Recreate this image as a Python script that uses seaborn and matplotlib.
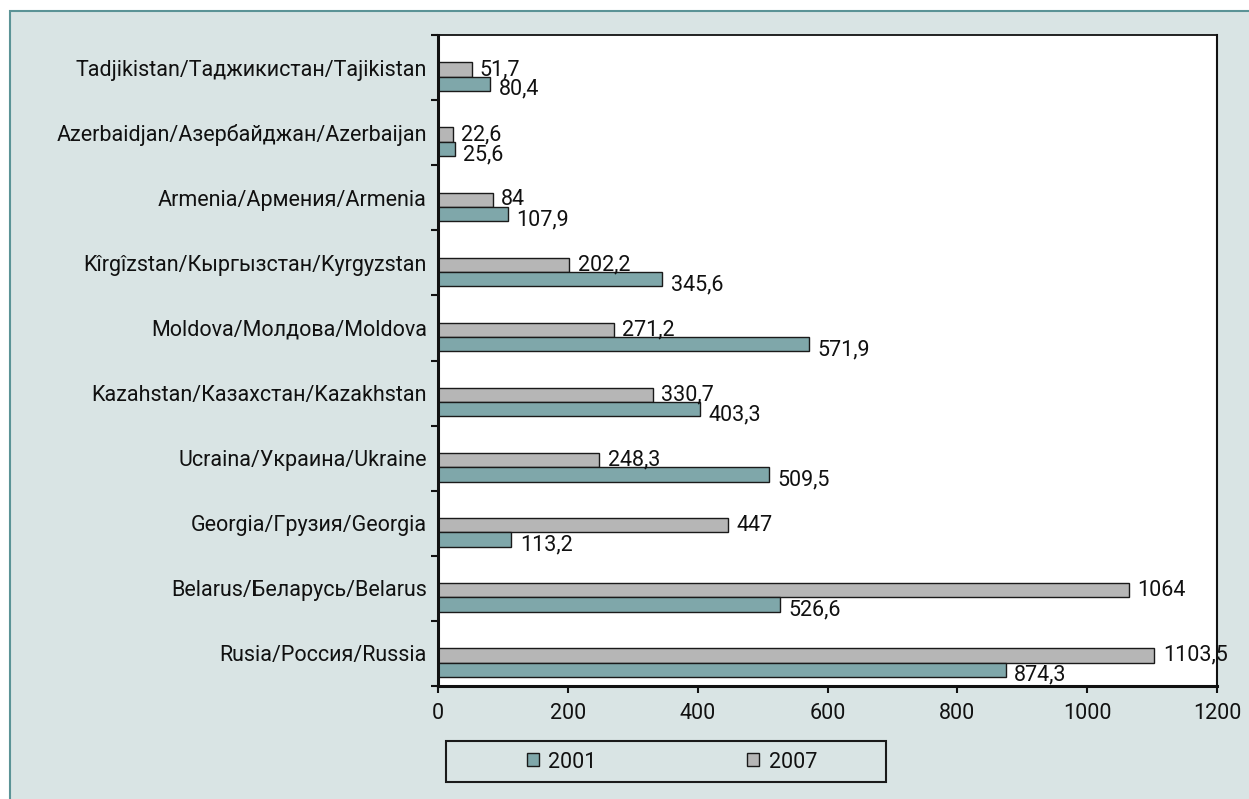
"""
CIS countries, 2001 vs 2007 - horizontal grouped bar chart
"""

import matplotlib.pyplot as plt
import seaborn as sns
import numpy as np
import pandas as pd
from matplotlib.patches import Rectangle, Patch

# data (top -> bottom)
countries = [
    'Tadjikistan/Таджикистан/Tajikistan',
    'Azerbaidjan/Азербайджан/Azerbaijan',
    'Armenia/Армения/Armenia',
    'Kîrgîzstan/Кыргызстан/Kyrgyzstan',
    'Moldova/Молдова/Moldova',
    'Kazahstan/Казахстан/Kazakhstan',
    'Ucraina/Украина/Ukraine',
    'Georgia/Грузия/Georgia',
    'Belarus/Беларусь/Belarus',
    'Rusia/Россия/Russia',
]
values_2001 = [80.4, 25.6, 107.9, 345.6, 571.9, 403.3, 509.5, 113.2, 526.6, 874.3]
values_2007 = [51.7, 22.6, 84, 202.2, 271.2, 330.7, 248.3, 447, 1064, 1103.5]
years = ['2001', '2007']
x_ticks = [0, 200, 400, 600, 800, 1000, 1200]

# 颜色
FILL_BG = '#d9e4e4'
FRAME = '#5b9396'
PALETTE = {'2001': '#7fa7aa', '2007': '#b6b6b6'}
INK = '#111111'

sns.set_theme(style='white')
plt.rcParams['font.family'] = ['Roboto', 'DejaVu Sans']
plt.rcParams['text.color'] = INK
plt.rcParams['xtick.color'] = INK
plt.rcParams['ytick.color'] = INK
FS = 15.5

# long table; bars are pushed a bit below the band centre like the original
n = len(countries)
pos = np.arange(n) + 0.14
df = pd.DataFrame({
    'country': countries * 2,
    'pos': np.concatenate([pos, pos]),
    'year': ['2001'] * n + ['2007'] * n,
    'value': values_2001 + values_2007,
})

fig = plt.figure(figsize=(12.49, 7.99), dpi=100)
fig.patch.set_facecolor('white')
# light panel with teal border behind everything
fig.patches.append(Rectangle((10 / 1249, -0.01), 1.02, 1 - 11 / 799 + 0.01,
                             transform=fig.transFigure, facecolor=FILL_BG,
                             edgecolor=FRAME, linewidth=1.5, zorder=-10))

ax = fig.add_axes([438 / 1249, 1 - 686 / 799, (1217 - 438) / 1249, (686 - 35) / 799])
ax.set_facecolor('white')
ax.set_zorder(2)

sns.barplot(
    data=df, x='value', y='pos', hue='year', hue_order=['2007', '2001'],
    orient='h', native_scale=True, palette=PALETTE, width=0.44,
    edgecolor='#1a1a1a', linewidth=1.0, saturation=1, legend=False, ax=ax,
)

# 数值标签 (comma decimals)
def fmt(v):
    return f"{round(v, 1):g}".replace('.', ',')

for cont, dy in zip(ax.containers, [0, -4]):
    for p in cont:
        w = p.get_width()
        ax.annotate(fmt(w), (w, p.get_y() + p.get_height() / 2),
                    xytext=(6, dy), textcoords='offset points',
                    ha='left', va='center', fontsize=FS, color=INK)

ax.set_xlim(0, 1200)
ax.set_ylim(n - 0.5, -0.5)
ax.set_xticks(x_ticks)
ax.set_xticklabels([str(t) for t in x_ticks], fontsize=FS)
# ticks at band edges, labels at band centres
ax.set_yticks(np.arange(n + 1) - 0.5)
ax.set_yticklabels([])
ax.set_yticks(np.arange(n), minor=True)
ax.set_yticklabels(countries, minor=True, fontsize=FS)
ax.tick_params(axis='y', which='minor', length=0, pad=8)
ax.tick_params(axis='y', which='major', length=5, width=1.5, direction='out', left=True)
ax.tick_params(axis='x', which='major', length=5, width=1.5, direction='out', bottom=True, pad=7)
ax.set_xlabel('')
ax.set_ylabel('')
for side, lw in [('left', 2.2), ('bottom', 2.2), ('top', 1.3), ('right', 1.5)]:
    ax.spines[side].set_visible(True)
    ax.spines[side].set_color(INK)
    ax.spines[side].set_linewidth(lw)

# legend box
fig.patches.append(Rectangle((446 / 1249, 1 - 782 / 799), 440 / 1249, 41 / 799,
                             transform=fig.transFigure, facecolor=FILL_BG,
                             edgecolor='#1a1a1a', linewidth=1.5, zorder=1))
handles = [Patch(facecolor=PALETTE[y], edgecolor='#1a1a1a', linewidth=1.0) for y in years]
fig.legend(handles, years, loc='center', bbox_to_anchor=(672 / 1249, 1 - 762 / 799),
           ncol=2, frameon=False, fontsize=FS, handlelength=0.55, handleheight=0.55,
           handletextpad=0.45, columnspacing=7.0)

fig.savefig('out.png', dpi=100)
